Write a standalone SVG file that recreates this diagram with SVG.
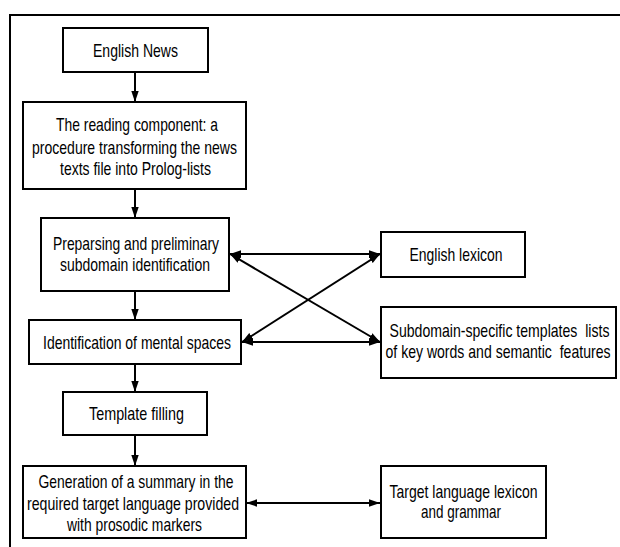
<svg xmlns="http://www.w3.org/2000/svg" width="620" height="547" viewBox="0 0 620 547">
<style>
  .box { fill: #ffffff; stroke: #000000; stroke-width: 2; }
  .frame { fill: none; stroke: #000000; stroke-width: 2; }
  .conn { fill: none; stroke: #000000; stroke-width: 2; }
  text { font-family: "Liberation Sans", Arial, sans-serif; font-size: 19px; fill: #000000; text-anchor: middle; }
</style>
<defs>
  <marker id="ah" markerUnits="userSpaceOnUse" markerWidth="11" markerHeight="9" refX="11" refY="4.5" orient="auto-start-reverse">
    <path d="M0,0.8 L11,4.5 L0,8.2 Z" fill="#000000"/>
  </marker>
</defs>
<rect width="620" height="547" fill="#ffffff"/>
<path class="frame" d="M10,547 L10,15 L620,15"/>

<g id="connectors">
  <line class="conn" x1="135" y1="72" x2="135" y2="102" marker-end="url(#ah)"/>
  <line class="conn" x1="135" y1="189" x2="135" y2="218" marker-end="url(#ah)"/>
  <line class="conn" x1="135" y1="291" x2="135" y2="320" marker-end="url(#ah)"/>
  <line class="conn" x1="135" y1="364" x2="135" y2="392" marker-end="url(#ah)"/>
  <line class="conn" x1="135" y1="435" x2="135" y2="466" marker-end="url(#ah)"/>
  <line class="conn" x1="230" y1="254" x2="380" y2="254" marker-start="url(#ah)" marker-end="url(#ah)"/>
  <line class="conn" x1="242" y1="342" x2="380" y2="342" marker-start="url(#ah)" marker-end="url(#ah)"/>
  <line class="conn" x1="230" y1="254" x2="380" y2="342" marker-start="url(#ah)" marker-end="url(#ah)"/>
  <line class="conn" x1="242" y1="342" x2="380" y2="254" marker-start="url(#ah)" marker-end="url(#ah)"/>
  <line class="conn" x1="246" y1="503" x2="380" y2="503" marker-start="url(#ah)" marker-end="url(#ah)"/>
</g>

<g id="english-news">
  <rect class="box" x="63" y="28" width="145" height="44"/>
  <text x="135.5" y="57" textLength="85" lengthAdjust="spacingAndGlyphs">English News</text>
</g>

<g id="reading-component">
  <rect class="box" x="23" y="102" width="223" height="87"/>
  <text x="137" y="131" textLength="162" lengthAdjust="spacingAndGlyphs">The reading component: a</text>
  <text x="134.5" y="153.5" textLength="205" lengthAdjust="spacingAndGlyphs">procedure transforming the news</text>
  <text x="135.5" y="175" textLength="151" lengthAdjust="spacingAndGlyphs">texts file into Prolog-lists</text>
</g>

<g id="preparsing">
  <rect class="box" x="41" y="218" width="188" height="73"/>
  <text x="136" y="250" textLength="166" lengthAdjust="spacingAndGlyphs">Preparsing and preliminary</text>
  <text x="135" y="271" textLength="150" lengthAdjust="spacingAndGlyphs">subdomain identification</text>
</g>

<g id="mental-spaces">
  <rect class="box" x="29" y="320" width="212" height="44"/>
  <text x="137" y="349" textLength="188" lengthAdjust="spacingAndGlyphs">Identification of mental spaces</text>
</g>

<g id="template-filling">
  <rect class="box" x="63" y="392" width="144" height="43"/>
  <text x="136.5" y="420" textLength="95" lengthAdjust="spacingAndGlyphs">Template filling</text>
</g>

<g id="generation">
  <rect class="box" x="23" y="466" width="223" height="72"/>
  <text x="136" y="488" textLength="195" lengthAdjust="spacingAndGlyphs">Generation of a summary in the</text>
  <text x="133" y="510" textLength="212" lengthAdjust="spacingAndGlyphs">required target language provided</text>
  <text x="134.5" y="531" textLength="135" lengthAdjust="spacingAndGlyphs">with prosodic markers</text>
</g>

<g id="english-lexicon">
  <rect class="box" x="381" y="232" width="144" height="45"/>
  <text x="456" y="261" textLength="93" lengthAdjust="spacingAndGlyphs">English lexicon</text>
</g>

<g id="subdomain-templates">
  <rect class="box" x="381" y="307" width="235" height="71"/>
  <text x="499.5" y="337" textLength="220" lengthAdjust="spacingAndGlyphs" xml:space="preserve">Subdomain-specific templates  lists</text>
  <text x="498" y="357.5" textLength="225" lengthAdjust="spacingAndGlyphs" xml:space="preserve">of key words and semantic  features</text>
</g>

<g id="target-lexicon">
  <rect class="box" x="381" y="466" width="165" height="72"/>
  <text x="463.5" y="497.5" textLength="148" lengthAdjust="spacingAndGlyphs">Target language lexicon</text>
  <text x="461" y="518" textLength="80" lengthAdjust="spacingAndGlyphs">and grammar</text>
</g>
</svg>
